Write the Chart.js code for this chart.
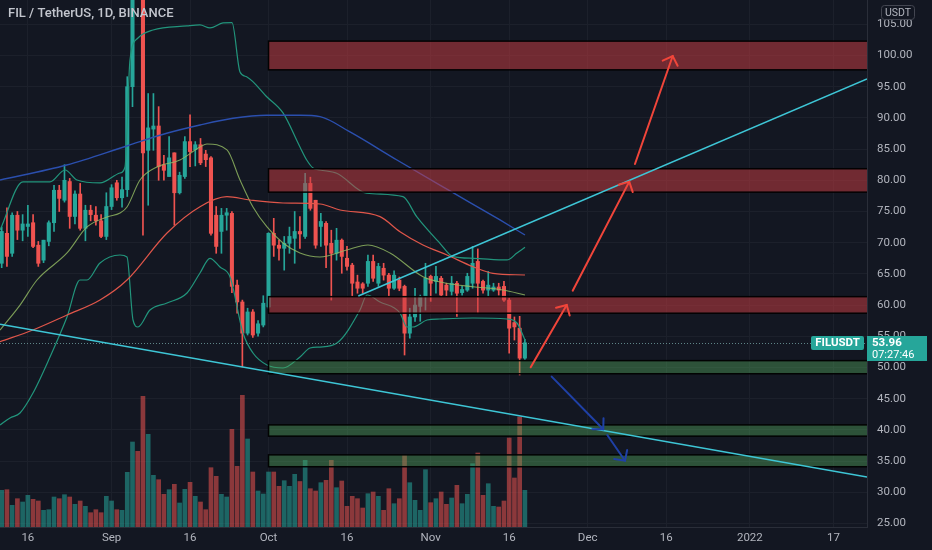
<!DOCTYPE html>
<html>
<head>
<meta charset="utf-8">
<script src="https://cdn.jsdelivr.net/npm/chart.js@4.4.0/dist/chart.umd.min.js"></script>
<style>
  html, body { margin: 0; padding: 0; background: #131722; overflow: hidden; }
  canvas { display: block; }
</style>
</head>
<body>
<canvas id="chart" width="932" height="550"></canvas>
<script>
/* ---- data ---- */
const symbolTitle = "FIL / TetherUS, 1D, BINANCE";
const quoteCurrency = "USDT";
const tickerName = "FILUSDT";
const countdown = "07:27:46";

const firstCandleDate = "2021-08-11";
const opens  = [66.7,71.5,68.3,74.4,72.0,72.6,73.2,69.6,67.2,70.2, 73.2,78.4,76.8,79.8,74.2,77.8,72.3,75.2,74.4,73.5,
                71.0,75.8,79.6,77.2,78.5,95.0,113.5,112.5,84.8,88.2, 88.7,82.5,80.6,84.4,78.0,80.6,86.2,84.9,85.7,84.2,
                83.6,74.4,71.8,74.4,74.7,63.2,60.5,55.5,58.9,55.5, 56.8,59.7,71.5,69.6,69.1,69.9,70.7,71.8,71.0,79.5,
                76.8,72.6,73.1,69.9,68.3,70.4,67.5,66.4,63.7,63.4, 63.5,67.0,63.5,65.9,64.8,62.7,64.0,63.0,55.5,58.1,
                59.8,61.4,64.6,63.8,64.3,63.2,62.2,63.5,62.0,62.4, 63.5,67.0,63.8,62.4,62.4,62.9,63.0,60.8,57.2,56.3,
                51.5];
const highs  = [72.5,75.6,74.8,75.0,74.5,76.0,74.5,70.2,70.4,73.5, 79.2,79.2,82.5,80.3,78.3,79.5,76.0,76.0,75.8,74.5,
                78.0,79.3,80.0,80.5,96.6,115.0,118.0,114.0,93.9,93.9, 91.8,84.0,87.0,84.4,81.3,87.0,90.5,86.2,86.7,84.8,
                83.8,75.8,75.5,75.5,75.0,64.0,60.8,59.5,59.3,57.5, 61.5,71.6,73.9,70.4,71.0,72.5,75.0,74.2,81.1,80.5,
                76.8,74.7,73.4,72.0,72.3,70.6,69.4,66.7,64.8,63.6, 68.0,68.0,66.7,66.7,65.1,65.5,64.5,63.2,59.5,62.7,
                61.6,66.7,64.8,66.2,64.6,63.5,64.6,63.8,63.0,65.1, 69.4,69.0,64.0,65.4,63.5,63.5,63.8,61.1,58.1,58.2,
                54.5];
const lows   = [66.0,66.2,67.8,70.5,70.3,71.0,69.2,66.2,66.8,69.5, 71.8,75.0,76.5,72.3,73.0,72.0,70.3,73.5,72.8,70.8,
                70.5,75.3,76.8,75.7,77.4,91.8,110.0,71.2,76.0,84.8, 80.0,80.0,80.6,72.8,77.8,80.3,82.2,82.3,82.5,82.2,
                71.2,68.3,68.3,72.0,62.0,58.7,50.1,55.2,54.8,55.0, 56.5,59.5,67.8,67.2,65.6,68.3,66.7,69.1,70.7,75.2,
                69.1,69.4,66.0,60.8,67.2,65.1,65.6,61.4,61.9,61.9, 63.0,63.8,63.0,64.0,61.4,62.5,62.3,52.0,54.7,57.4,
                57.4,59.2,60.6,61.9,61.4,61.5,61.6,58.2,61.6,62.2, 62.7,58.7,61.9,61.4,62.2,61.6,60.6,52.3,54.4,48.8,
                51.3];
const closes = [71.8,67.8,74.4,72.0,73.0,73.0,69.4,66.7,70.4,73.2, 78.4,77.1,80.0,74.2,77.8,72.3,75.2,74.5,73.5,71.0,
                75.8,78.8,77.2,78.5,95.0,112.0,112.5,84.4,88.4,88.7, 82.2,81.6,83.6,78.0,80.8,86.2,84.6,85.7,82.8,83.3,
                71.5,69.4,74.4,74.8,63.0,60.5,55.5,58.9,55.2,57.0, 60.3,71.5,69.6,69.1,69.9,71.0,71.8,71.4,79.5,75.5,
                69.6,73.4,69.6,68.3,70.4,67.8,66.2,63.5,62.7,62.7, 67.0,64.3,66.2,64.8,62.7,64.8,62.7,55.5,58.1,60.0,
                61.4,64.3,63.5,64.6,61.6,62.4,63.5,61.9,62.5,64.6, 66.7,63.5,62.4,63.2,62.9,62.4,60.8,56.3,56.5,51.5,
                53.96];
// relative volume (bar heights as seen)
const volumes = [36.7,37.3,21.7,28.3,25,31.7,27.7,26,16.7,17.3, 30,28.3,32.3,30,22.7,26,20.7,14.3,17.3,14.3,
                 30.7,26,17.3,16.7,54.7,85,75.7,130.7,92.7,51.7, 47.3,32.7,37.3,42.7,24,37.7,44.7,30.7,25,17.3,
                 59.3,50.7,32.7,30,97.7,60.7,131.7,88,55,36, 33,55,55,40.7,46.3,40.7,52.7,45.5,66.7,38.3,
                 36,44.3,46.7,66.7,39.3,46,20.7,30.7,28.3,19, 33.3,35,30.7,16.7,38.3,23.3,28.3,71.7,44.3,26.7,
                 16.7,57.3,24.3,28.3,35,22.7,29,41.7,23.3,32.7, 63.3,74,31.7,43.3,20.7,20,26,89,49,110,
                 36.7];

// indicator lines: [day since 2021-08-01, price]
const bbUpper = [[9.68,72.03],[14.07,79.73],[19.23,79.73],[22.1,81.65],[24.39,80.05],[28.79,79.57],[32.61,81.17],
  [33.57,82.13],[34.52,99.28],[36.05,102.8],[38.92,104.09],[45.42,104.73],[47.9,104.89],[49.81,104.41],[52.3,105.21],
  [54.02,105.26],[55.55,97.36],[56.88,96.56],[60.71,93.35],[63.77,90.79],[67.01,85.34],[68.3,83.25],[69.5,81.97],
  [70.84,81.65],[74.03,81.12],[79.76,77.92],[86.7,77.37],[89.32,74.17],[93.77,69.9],[96.26,67.76],[100.08,67.5],
  [106.58,67.23],[108.49,68.35],[110.02,69.26]];
const bbBasis = [[9.68,56.0],[13.5,60.0],[16.75,64.02],[22.48,68.35],[26.3,72.52],[30.13,74.12],[32.61,74.76],
  [33.95,75.72],[36.43,80.05],[39.68,82.13],[44.08,83.25],[47.9,85.34],[49.24,85.82],[53.06,84.86],[55.55,80.05],
  [58.03,75.72],[60.71,72.52],[63.77,69.95],[67.01,68.35],[70.84,67.71],[75.94,68.83],[80.01,69.63],[84.22,68.35],
  [90.52,64.55],[95.05,63.49],[100.08,62.95],[105.81,62.42],[110.02,61.62]];
const bbLower = [[9.68,40.78],[11.59,41.91],[13.5,42.71],[15.98,45.9],[19.23,51.68],[22.48,58.09],[24.97,64.02],
  [26.3,64.02],[28.79,66.75],[32.61,68.03],[33.95,67.71],[35.1,57.61],[36.05,56.49],[38.34,59.21],[41.6,60.34],
  [45.42,61.94],[47.9,65.14],[49.81,67.5],[51.72,66.1],[53.65,64.5],[56.12,55.53],[58.03,52.32],[60.71,50.4],
  [63.77,49.92],[67.01,51.68],[68.93,53.12],[70.84,53.28],[74.09,53.93],[78.48,59.21],[79.82,61.62],[82.31,60.5],
  [86.13,58.73],[87.47,56.49],[88.61,56.49],[91.29,57.61],[93.77,57.77],[100.08,57.93],[106.58,57.77],
  [108.49,57.13],[110.02,54.41]];
const maRed = [[9.68,54.13],[15.98,56.01],[22.48,58.41],[28.79,60.82],[33.95,64.02],[41.6,71.56],[47.9,75.77],
  [53.06,77.37],[57.46,76.84],[63.77,76.36],[70.84,76.2],[74.66,75.24],[82.31,74.17],[86.13,71.76],[90.52,69.63],
  [95.11,68.03],[100.08,66.15],[103.9,65.09],[110.02,64.82]];
const maBlue = [[9.68,80.05],[22.42,82.45],[33.89,85.5],[41.54,87.53],[47.9,88.86],[54.21,89.94],[60.65,90.42],
  [67.01,90.42],[70.84,90.2],[76.57,87.74],[85.55,83.25],[95.68,78.29],[105.24,73.64],[110.02,71.23]];

// drawn zones [bottom, top] starting at Oct 1
const zoneStartDate = "2021-10-01";
const resistanceZones = [[97.7, 102.3], [78.1, 81.85], [58.7, 61.35]];
const supportZones = [[49.0, 51.1], [39.0, 40.8], [34.1, 36.0]];
// trend lines and arrows [day1, price1, day2, price2]
const trendLines = [[9.68, 56.92, 175.39, 32.45], [78.16, 61.46, 175.39, 96.23]];
const bullArrows = [[111.11, 50.03, 117.99, 60.02], [119.14, 62.31, 129.95, 79.78], [131.04, 82.61, 138.25, 99.92]];
const bearArrows = [[115.12, 48.53, 124.98, 40.1], [125.75, 39.18, 129.14, 35.06]];

// axes
const tickDates = ["2021-08-16","2021-09-01","2021-09-16","2021-10-01","2021-10-16","2021-11-01",
                   "2021-11-16","2021-12-01","2021-12-16","2022-01-01","2022-01-17"];
const tickLabels = ["16","Sep","16","Oct","16","Nov","16","Dec","16","2022","17"];
const priceTicks = [25,30,35,40,45,50,55,60,65,70,75,80,85,90,95,100,105];
const viewFromDay = 9.675, viewToDay = 175.39;
const priceMin = 24.44, priceMax = 108.89;
const volumeAxisMax = 527;

/* ---- helpers ---- */
const DAY0 = Date.UTC(2021, 7, 1);
function dayOf(iso) { return Math.round((Date.parse(iso) - DAY0) / 864e5); }

const UP = "#26a69a", DOWN = "#ef5350";
const startDay = dayOf(firstCandleDate);
const days = closes.map((c, i) => startDay + i);
const isUp = closes.map((c, i) => c >= opens[i]);
const tickDays = tickDates.map(dayOf);
const pts = arr => arr.map(p => ({ x: p[0], y: p[1] }));

function arrowHead(ctx, x0, y0, x1, y1, len) {
  const ang = Math.atan2(y1 - y0, x1 - x0);
  ctx.beginPath();
  ctx.moveTo(x1 - len * Math.cos(ang - 0.8), y1 - len * Math.sin(ang - 0.8));
  ctx.lineTo(x1, y1);
  ctx.lineTo(x1 - len * Math.cos(ang + 0.8), y1 - len * Math.sin(ang + 0.8));
  ctx.stroke();
}

function roundRect(ctx, x, y, w, h, r) {
  ctx.beginPath();
  ctx.moveTo(x + r, y);
  ctx.arcTo(x + w, y, x + w, y + h, r);
  ctx.arcTo(x + w, y + h, x, y + h, r);
  ctx.arcTo(x, y + h, x, y, r);
  ctx.arcTo(x, y, x + w, y, r);
  ctx.closePath();
}

/* ---- overlay drawings ---- */
const overlay = {
  id: "overlay",
  beforeDraw(chart) {
    const ctx = chart.ctx;
    ctx.save();
    ctx.fillStyle = "#131722";
    ctx.fillRect(0, 0, chart.width, chart.height);
    ctx.restore();
  },
  afterDatasetsDraw(chart) {
    const { ctx, chartArea: a, scales: { x, y } } = chart;
    ctx.save();
    ctx.beginPath();
    ctx.rect(a.left, a.top, a.right - a.left, a.bottom - a.top);
    ctx.clip();

    // last price line
    const py = y.getPixelForValue(closes[closes.length - 1]);
    ctx.setLineDash([1, 2]);
    ctx.strokeStyle = "rgba(120,170,170,0.75)";
    ctx.lineWidth = 1;
    ctx.beginPath();
    ctx.moveTo(a.left, Math.round(py) + 0.5);
    ctx.lineTo(a.right, Math.round(py) + 0.5);
    ctx.stroke();
    ctx.setLineDash([]);

    // zones
    const zx = x.getPixelForValue(dayOf(zoneStartDate));
    const drawZone = (z, fill) => {
      const yt = y.getPixelForValue(z[1]), yb = y.getPixelForValue(z[0]);
      ctx.fillStyle = fill;
      ctx.fillRect(zx, yt, a.right - zx, yb - yt);
      ctx.strokeStyle = "rgba(0,0,0,0.95)";
      ctx.lineWidth = 1.5;
      ctx.strokeRect(zx, yt, a.right - zx + 2, yb - yt);
    };
    resistanceZones.forEach(z => drawZone(z, "rgba(200,60,65,0.52)"));
    supportZones.forEach(z => drawZone(z, "rgba(80,165,90,0.42)"));

    // trend lines
    ctx.strokeStyle = "#3ec6d6";
    ctx.lineWidth = 1.5;
    trendLines.forEach(t => {
      ctx.beginPath();
      ctx.moveTo(x.getPixelForValue(t[0]), y.getPixelForValue(t[1]));
      ctx.lineTo(x.getPixelForValue(t[2]), y.getPixelForValue(t[3]));
      ctx.stroke();
    });

    // arrows
    const drawArrow = (t, color) => {
      const x0 = x.getPixelForValue(t[0]), y0 = y.getPixelForValue(t[1]);
      const x1 = x.getPixelForValue(t[2]), y1 = y.getPixelForValue(t[3]);
      ctx.strokeStyle = color;
      ctx.lineWidth = 2;
      ctx.lineCap = "round";
      ctx.beginPath();
      ctx.moveTo(x0, y0);
      ctx.lineTo(x1, y1);
      ctx.stroke();
      arrowHead(ctx, x0, y0, x1, y1, 11);
    };
    bullArrows.forEach(t => drawArrow(t, "#f0453a"));
    bearArrows.forEach(t => drawArrow(t, "#1f40a6"));
    ctx.restore();
  },
  afterDraw(chart) {
    const { ctx, chartArea: a, scales: { y } } = chart;
    ctx.save();
    // title
    ctx.fillStyle = "#c3c6ce";
    ctx.font = "500 13px Roboto, sans-serif";
    ctx.textBaseline = "middle";
    ctx.textAlign = "left";
    ctx.fillText(symbolTitle, 8, 14);

    // currency tag
    ctx.strokeStyle = "#434651";
    ctx.lineWidth = 1;
    roundRect(ctx, 881.5, 5.5, 33, 14, 3);
    ctx.stroke();
    ctx.fillStyle = "#b2b5be";
    ctx.font = "10.5px Roboto, sans-serif";
    ctx.textAlign = "center";
    ctx.fillText(quoteCurrency, 898, 13);

    // last price tags
    const last = closes[closes.length - 1];
    const py = Math.round(y.getPixelForValue(last));
    ctx.fillStyle = UP;
    roundRect(ctx, a.right - 56, py - 7, 53, 14, 2);
    ctx.fill();
    ctx.fillRect(a.right, py - 7, 60, 25);
    ctx.fillStyle = "#ffffff";
    ctx.font = "bold 11.5px Roboto, sans-serif";
    ctx.textAlign = "center";
    ctx.fillText(tickerName, a.right - 29.5, py + 0.5);
    ctx.textAlign = "left";
    ctx.font = "bold 11.5px Roboto, sans-serif";
    ctx.fillText(last.toFixed(2), a.right + 5, py);
    ctx.font = "11px Roboto, sans-serif";
    ctx.fillText(countdown, a.right + 5, py + 12);
    ctx.restore();
  }
};

/* ---- chart ---- */
Chart.defaults.font.family = "Roboto, 'Open Sans', sans-serif";

const lineSet = (data, color, width) => ({
  type: "line", data: pts(data), borderColor: color, borderWidth: width,
  pointRadius: 0, cubicInterpolationMode: "monotone", fill: false, order: 0, yAxisID: "y"
});

new Chart(document.getElementById("chart"), {
  type: "bar",
  data: {
    datasets: [
      lineSet(maBlue, "#2b4fae", 1.4),
      lineSet(maRed, "#e0564a", 1.2),
      lineSet(bbUpper, "#22957c", 1.2),
      lineSet(bbLower, "#22957c", 1.2),
      lineSet(bbBasis, "rgba(150,190,100,0.8)", 1.1),
      {
        label: "body",
        data: days.map((d, i) => ({ x: d, y: [opens[i], closes[i]] })),
        backgroundColor: isUp.map(u => u ? UP : DOWN),
        barThickness: 3.4, minBarLength: 1, grouped: false, order: 2, yAxisID: "y"
      },
      {
        label: "wick",
        data: days.map((d, i) => ({ x: d, y: [lows[i], highs[i]] })),
        backgroundColor: isUp.map(u => u ? UP : DOWN),
        barThickness: 1, grouped: false, order: 3, yAxisID: "y"
      },
      {
        label: "volume",
        data: days.map((d, i) => ({ x: d, y: volumes[i] })),
        backgroundColor: isUp.map(u => u ? "rgba(38,166,154,0.55)" : "rgba(239,83,80,0.55)"),
        barThickness: 4, grouped: false, order: 6, yAxisID: "vol"
      }
    ]
  },
  options: {
    responsive: false,
    animation: false,
    events: [],
    layout: { padding: 0 },
    plugins: { legend: { display: false }, tooltip: { enabled: false } },
    scales: {
      x: {
        type: "linear", min: viewFromDay, max: viewToDay, offset: false,
        afterBuildTicks: s => { s.ticks = tickDays.map(v => ({ value: v })); },
        ticks: {
          callback: (v, i) => tickLabels[i], color: "#b2b5be", font: { size: 11.5 },
          maxRotation: 0, autoSkip: false, padding: 4
        },
        grid: { color: "#1c202b", drawTicks: false, offset: false },
        border: { color: "#2a2e39" },
        afterFit: s => { s.height = 23; s.paddingLeft = 0; s.paddingRight = 0; }
      },
      y: {
        type: "linear", position: "right", min: priceMin, max: priceMax,
        afterBuildTicks: s => { s.ticks = priceTicks.map(v => ({ value: v })); },
        ticks: { callback: v => v.toFixed(2), color: "#b2b5be", font: { size: 11.5 }, padding: 10 },
        grid: { color: "#1c202b", drawTicks: false },
        border: { color: "#2a2e39" },
        afterFit: s => { s.width = 65; s.paddingTop = 0; s.paddingBottom = 0; }
      },
      vol: { type: "linear", display: false, min: 0, max: volumeAxisMax }
    }
  },
  plugins: [overlay]
});
</script>
</body>
</html>
